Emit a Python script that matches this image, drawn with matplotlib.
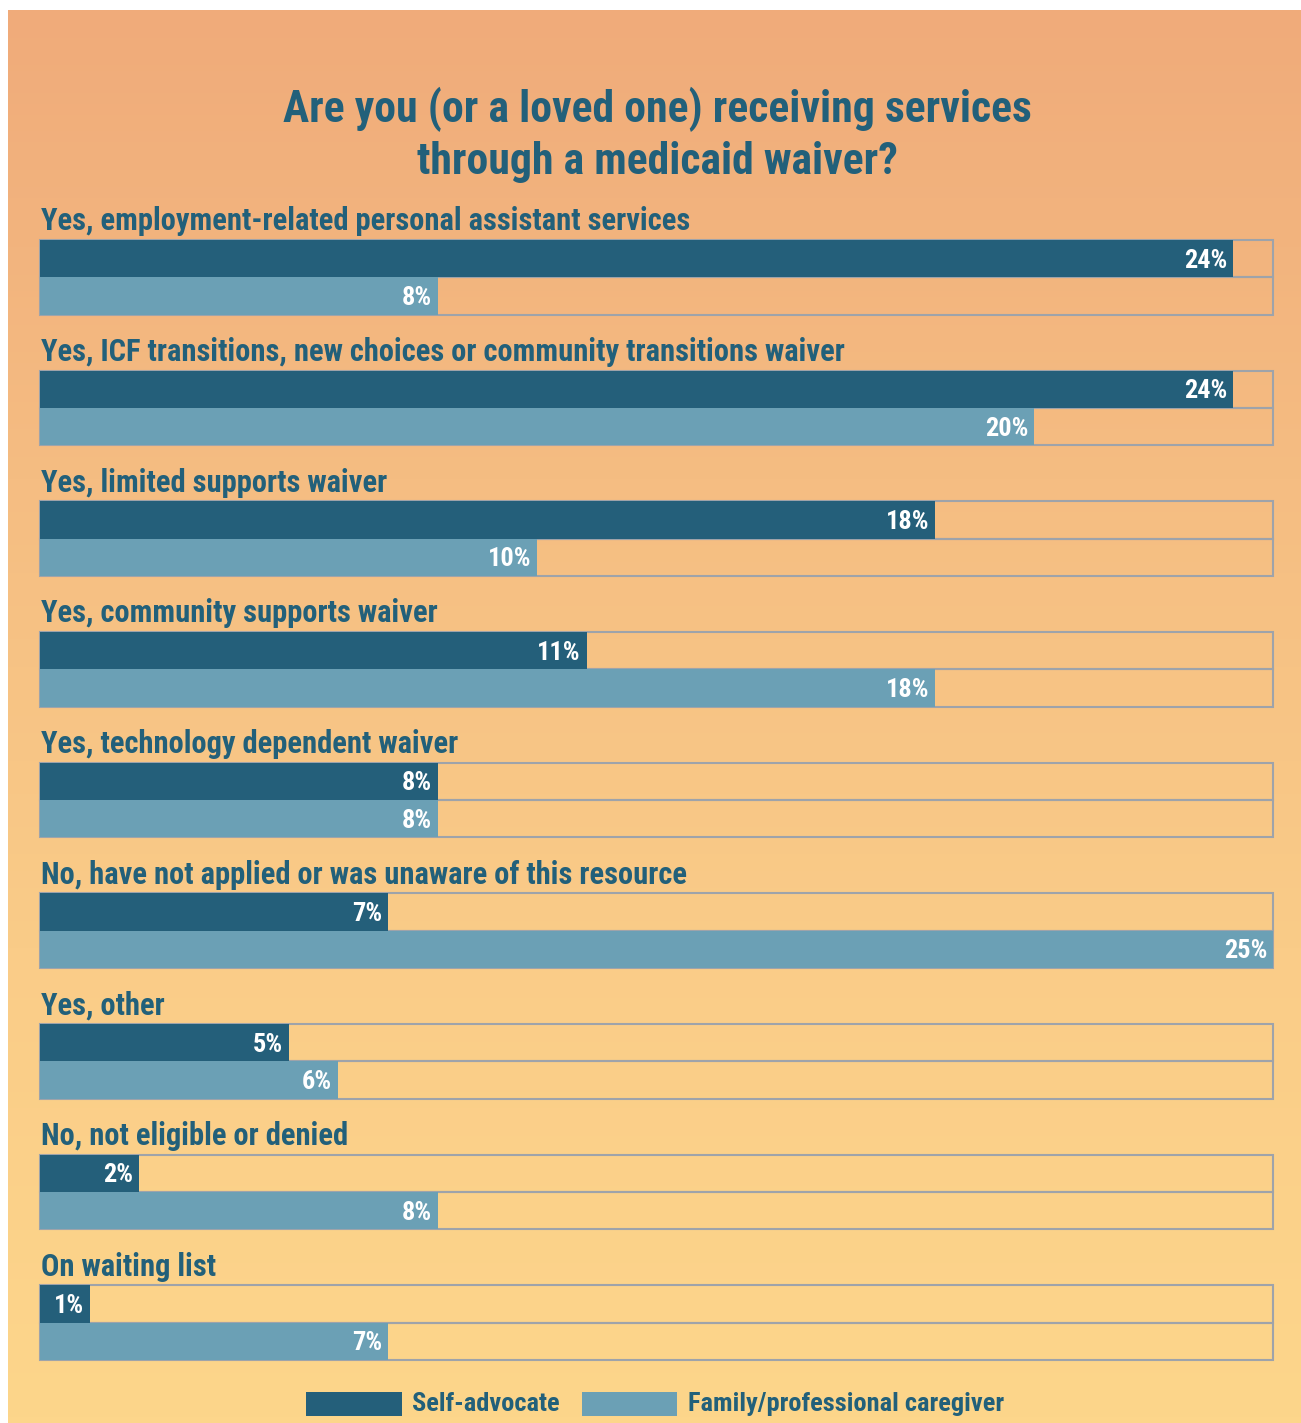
import numpy as np
import matplotlib
matplotlib.use('Agg')
import matplotlib.pyplot as plt
from matplotlib.colors import LinearSegmentedColormap
from matplotlib.patches import Rectangle

categories = [
    'Yes, employment-related personal assistant services',
    'Yes, ICF transitions, new choices or community transitions waiver',
    'Yes, limited supports waiver',
    'Yes, community supports waiver',
    'Yes, technology dependent waiver',
    'No, have not applied or was unaware of this resource',
    'Yes, other',
    'No, not eligible or denied',
    'On waiting list',
]
self_advocate = [24, 24, 18, 11, 8, 7, 5, 2, 1]
caregiver = [8, 20, 10, 18, 8, 25, 6, 8, 7]
series_names = ['Self-advocate', 'Family/professional caregiver']
title = 'Are you (or a loved one) receiving services\nthrough a medicaid waiver?'

DARK = '#245F7A'
LIGHT = '#6BA0B5'
TEXT = '#22607A'
EDGE = '#9EA3AA'
FONT = ['Roboto Condensed', 'DejaVu Sans']

W, H = 1301, 1423
fig = plt.figure(figsize=(W / 100, H / 100), dpi=100)
fig.patch.set_facecolor('white')

# background gradient panel
bg = fig.add_axes([8 / W, 0, 1 - 8 / W, 1 - 10 / H])
bg.set_axis_off()
cmap = LinearSegmentedColormap.from_list('bg', ['#F0AB7A', '#F5BD82', '#FACC88', '#FDD68B'])
grad = np.linspace(0, 1, 256).reshape(-1, 1)
bg.imshow(grad, aspect='auto', cmap=cmap, extent=[0, 1, 1, 0])

# chart axes: box area from x=40..1273 px, y=240..1360 px
x0, x1 = 40, 1273
y_top, y_bot = 240, 1360
ax = fig.add_axes([x0 / W, 1 - y_bot / H, (x1 - x0) / W, (y_bot - y_top) / H])
xmax = 24.8
ax.set_xlim(0, xmax)
pitch = 3.5
n = len(categories)
ax.set_ylim(pitch * (n - 1) + 2, 0)
ax.set_axis_off()

for i, cat in enumerate(categories):
    top = i * pitch
    for j, vals in enumerate([self_advocate, caregiver]):
        y = top + j
        ax.add_patch(Rectangle((0, y), xmax, 1, facecolor='none', edgecolor=EDGE,
                               linewidth=1.5, zorder=1, clip_on=False))
        ax.barh(y + 0.5, vals[i], height=1, color=DARK if j == 0 else LIGHT,
                zorder=2)
        ax.text(min(vals[i], xmax) - 0.12, y + 0.55, f'{vals[i]}%', ha='right',
                va='center', color='white', fontsize=19, fontweight='bold',
                family=FONT, zorder=3)
    ax.text(0.02, top - 0.5, cat, ha='left', va='center', color=TEXT,
            fontsize=22, fontweight='bold', family=FONT)

fig.text(0.505, 1 - 135 / H, title, ha='center', va='center', color=TEXT,
         fontsize=31.5, fontweight='bold', family=FONT, linespacing=1.25)

# legend
leg_y = 1 - 1404 / H
fig.patches.append(Rectangle((306 / W, 1 - 1416 / H), 96 / W, 24 / H,
                             transform=fig.transFigure, facecolor=DARK, edgecolor='none'))
fig.text(412 / W, leg_y, series_names[0], ha='left', va='center', color=TEXT,
         fontsize=19, fontweight='bold', family=FONT)
fig.patches.append(Rectangle((582 / W, 1 - 1416 / H), 95 / W, 24 / H,
                             transform=fig.transFigure, facecolor=LIGHT, edgecolor='none'))
fig.text(688 / W, leg_y, series_names[1], ha='left', va='center', color=TEXT,
         fontsize=19, fontweight='bold', family=FONT)

fig.savefig('out.png', dpi=100)
